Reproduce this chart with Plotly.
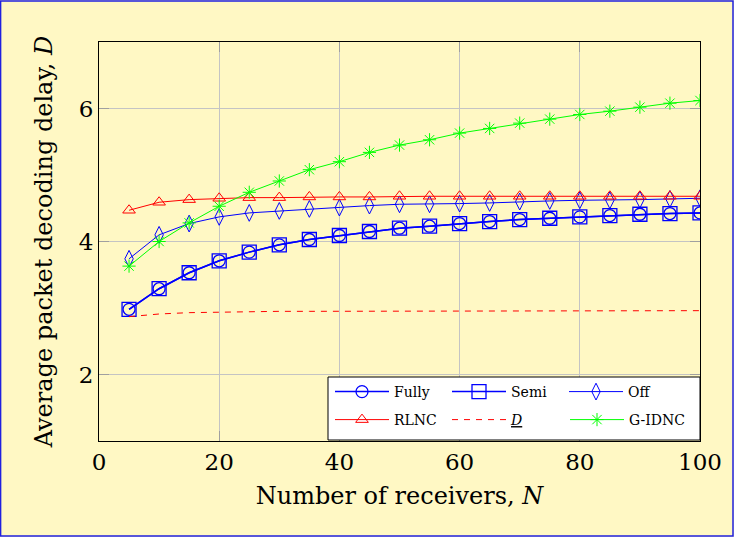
import plotly.graph_objects as go

N = [5, 10, 15, 20, 25, 30, 35, 40, 45, 50, 55, 60, 65, 70, 75, 80, 85, 90, 95, 100]

fully = [2.98, 3.29, 3.53, 3.71, 3.84, 3.95, 4.03, 4.09, 4.15, 4.20, 4.23, 4.27, 4.30, 4.33, 4.35, 4.37, 4.39, 4.41, 4.42, 4.43]
semi = [2.98, 3.29, 3.53, 3.71, 3.84, 3.95, 4.03, 4.09, 4.15, 4.20, 4.23, 4.27, 4.30, 4.33, 4.35, 4.37, 4.39, 4.41, 4.42, 4.43]
off = [3.74, 4.10, 4.27, 4.37, 4.43, 4.46, 4.49, 4.51, 4.54, 4.56, 4.56, 4.57, 4.58, 4.60, 4.61, 4.62, 4.62, 4.63, 4.64, 4.65]
rlnc = [4.47, 4.59, 4.63, 4.65, 4.66, 4.66, 4.67, 4.67, 4.67, 4.68, 4.68, 4.68, 4.68, 4.68, 4.68, 4.68, 4.68, 4.68, 4.68, 4.68]
dbound = [2.87, 2.91, 2.93, 2.94, 2.95, 2.95, 2.95, 2.95, 2.96, 2.96, 2.96, 2.96, 2.96, 2.96, 2.96, 2.96, 2.96, 2.96, 2.96, 2.96]
gidnc = [3.63, 4.00, 4.28, 4.53, 4.74, 4.91, 5.08, 5.20, 5.34, 5.45, 5.53, 5.63, 5.70, 5.78, 5.84, 5.91, 5.96, 6.02, 6.08, 6.12]

BLUE = "#0000FF"
RED = "#FF0000"
GREEN = "#00FF00"
FONT = "DejaVu Serif"

fig = go.Figure()
fig.add_trace(go.Scatter(x=N, y=fully, name="Fully", mode="lines+markers", legend="legend",
                         line=dict(color=BLUE, width=1.5),
                         marker=dict(symbol="circle-open", size=12, color=BLUE, line=dict(width=1.3))))
fig.add_trace(go.Scatter(x=N, y=semi, name="Semi", mode="lines+markers", legend="legend",
                         line=dict(color=BLUE, width=1.5),
                         marker=dict(symbol="square-open", size=14, color=BLUE, line=dict(width=1.3))))
fig.add_trace(go.Scatter(x=N, y=off, name="Off", mode="lines+markers", legend="legend",
                         line=dict(color=BLUE, width=1),
                         marker=dict(symbol="diamond-tall-open", size=12, color=BLUE, line=dict(width=1))))
fig.add_trace(go.Scatter(x=N, y=rlnc, name="RLNC", mode="lines+markers", legend="legend2",
                         line=dict(color=RED, width=1),
                         marker=dict(symbol="triangle-up-open", size=11, color=RED, line=dict(width=1))))
fig.add_trace(go.Scatter(x=N, y=dbound, name="<u><i>D</i></u>", mode="lines", legend="legend2",
                         line=dict(color=RED, width=1, dash="6px,6px")))
fig.add_trace(go.Scatter(x=N, y=gidnc, name="G-IDNC", mode="lines+markers", legend="legend3",
                         line=dict(color=GREEN, width=1),
                         marker=dict(symbol="asterisk-open", size=11, color=GREEN, line=dict(width=1, color=GREEN))))

# outer blue border
fig.add_shape(type="rect", xref="paper", yref="paper",
              x0=-99/601 + 0.001, x1=(733-99)/601, y0=(441-536)/399, y1=(441-1)/399,
              line=dict(color="#2020E0", width=1.5), fillcolor="rgba(0,0,0,0)", layer="below")
# legend box
fig.add_shape(type="rect", xref="paper", yref="paper",
              x0=(328-99)/601, x1=1.0, y0=0.0025, y1=(441-377)/399,
              line=dict(color="black", width=1), fillcolor="white", layer="above")

leg_common = dict(
    orientation="h",
    xanchor="left", yanchor="middle",
    bgcolor="rgba(0,0,0,0)", borderwidth=0,
    font=dict(family=FONT, size=14),
    entrywidth=48, entrywidthmode="pixels",
    itemwidth=54,
)
leg3 = dict(leg_common)
leg3.pop("entrywidth")
leg3.pop("entrywidthmode")

fig.update_layout(
    width=734, height=537,
    margin=dict(l=99, r=34, t=42, b=96),
    paper_bgcolor="#FFF8C4",
    plot_bgcolor="#FFF8C4",
    font=dict(family=FONT, size=20, color="black"),
    showlegend=True,
    legend=dict(x=(330-99)/601, y=(441-392)/399, **leg_common),
    legend2=dict(x=(330-99)/601, y=(441-420)/399, **leg_common),
    legend3=dict(x=(565-99)/601, y=(441-420)/399, **leg3),
    xaxis=dict(
        range=[0, 100], tickvals=[0, 20, 40, 60, 80, 100],
        showgrid=True, gridcolor="#C4C4C4", gridwidth=1,
        showline=True, linecolor="black", linewidth=1, mirror="ticks",
        ticks="inside", ticklen=10, tickcolor="#A0A0A0",
        zeroline=False,
        title=dict(text="Number of receivers, <i>N</i>", font=dict(size=24), standoff=13),
        tickfont=dict(size=23),
    ),
    yaxis=dict(
        range=[1, 7], tickvals=[2, 4, 6],
        showgrid=True, gridcolor="#C4C4C4", gridwidth=1,
        showline=True, linecolor="black", linewidth=1, mirror="ticks",
        ticks="inside", ticklen=10, tickcolor="#A0A0A0",
        zeroline=False,
        title=dict(text="Average packet decoding delay, <i>D</i>", font=dict(size=24), standoff=19),
        tickfont=dict(size=23),
    ),
)

fig.write_html("out.html")
